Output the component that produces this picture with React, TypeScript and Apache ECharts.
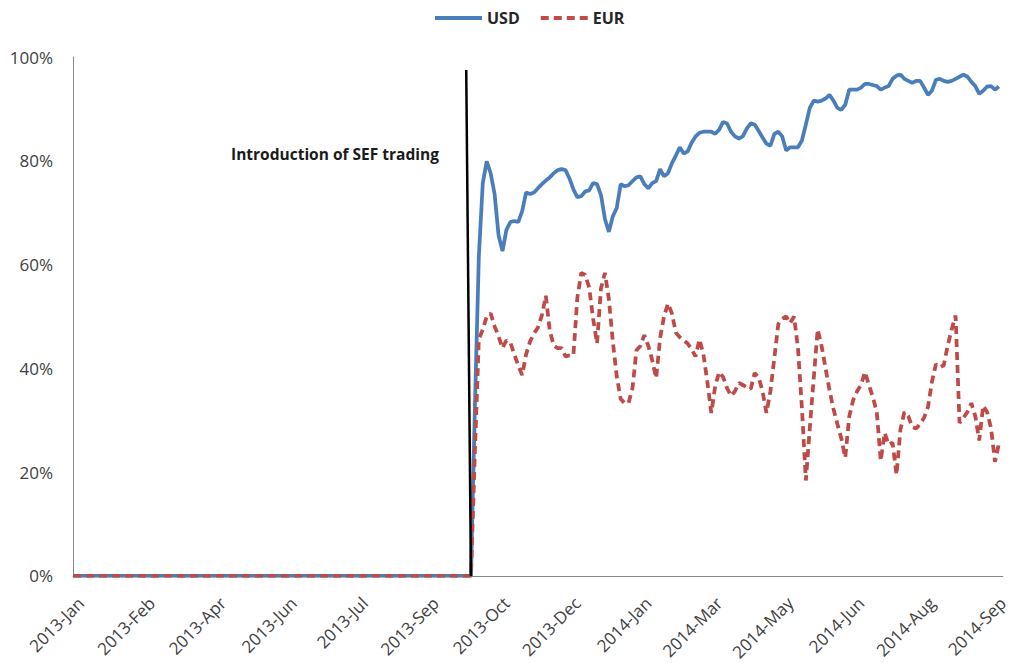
import React, { useEffect, useRef } from "react";
import * as echarts from "echarts";

const tickLabels = [
  "2013-Jan", "2013-Feb", "2013-Apr", "2013-Jun", "2013-Jul", "2013-Sep", "2013-Oct",
  "2013-Dec", "2014-Jan", "2014-Mar", "2014-May", "2014-Jun", "2014-Aug", "2014-Sep",
];
const POINTS_PER_LABEL = 18;
const LABEL_OFFSET = 2;
const AXIS_END = 236;
const SEF_START = 101; // last observation with no SEF trading
const sefLine = { top: [99.8, 97.5], bottom: [101.0, 0] };
const annotation = "Introduction of SEF trading";

// share of trading on SEF (%) after introduction
const usdShare = [
  32.4, 61.5, 75.7, 79.9, 77.6, 73.6, 65.7, 62.6, 66.7, 68.2, 68.4, 68.2, 70.3, 73.9, 73.6, 73.9,
  74.7, 75.5, 76.2, 76.8, 77.6, 78.2, 78.4, 78.2, 76.6, 74.5, 73.0, 73.2, 74.1, 74.3, 75.7, 75.5,
  73.4, 68.8, 66.3, 69.3, 70.9, 75.5, 75.1, 75.3, 76.1, 76.8, 77.0, 75.5, 74.7, 75.7, 76.1, 78.4,
  77.0, 77.6, 79.5, 81.0, 82.6, 81.4, 81.8, 83.5, 84.7, 85.4, 85.6, 85.6, 85.6, 85.2, 86.0, 87.5,
  87.2, 85.6, 84.7, 84.3, 84.7, 86.2, 87.2, 87.0, 85.8, 84.5, 83.3, 82.9, 85.2, 85.6, 84.7, 82.0,
  82.6, 82.6, 82.6, 83.9, 87.0, 90.2, 91.6, 91.4, 91.6, 92.0, 92.7, 91.6, 90.2, 89.8, 90.8, 93.7,
  93.7, 93.7, 94.1, 94.8, 94.8, 94.6, 94.4, 93.7, 94.1, 94.4, 95.8, 96.4, 96.6, 95.8, 95.4, 95.0,
  95.4, 95.4, 94.1, 92.7, 93.5, 95.6, 95.8, 95.4, 95.2, 95.4, 95.8, 96.2, 96.6, 96.2, 95.2, 94.4,
  92.9, 93.5, 94.3, 94.4, 93.7, 94.3,
];
const eurShare = [
  23.9, 45.6, 47.5, 50.0, 50.6, 48.1, 46.2, 43.9, 45.4, 45.0, 42.7, 40.6, 38.7, 42.7, 45.2, 46.7,
  47.9, 50.2, 54.0, 47.3, 44.4, 43.9, 43.9, 42.3, 42.5, 42.5, 53.6, 58.4, 58.0, 55.6, 49.6, 44.8,
  55.4, 58.4, 53.4, 45.2, 38.5, 34.1, 33.3, 33.3, 36.2, 43.5, 44.3, 46.4, 44.4, 41.6, 38.1, 45.8,
  50.0, 52.5, 50.6, 46.9, 46.0, 45.4, 44.8, 43.7, 42.3, 45.6, 42.7, 37.4, 31.4, 36.6, 39.3, 38.3,
  36.2, 34.7, 35.6, 37.2, 36.8, 36.4, 36.0, 39.1, 38.3, 35.6, 31.4, 35.6, 42.0, 48.5, 49.6, 50.0,
  48.7, 50.0, 43.9, 32.4, 18.4, 28.5, 38.1, 47.5, 44.3, 40.0, 35.8, 32.2, 29.3, 26.5, 22.8, 30.7,
  33.9, 35.6, 36.8, 39.3, 36.8, 34.5, 31.6, 22.2, 27.6, 25.3, 25.7, 19.5, 28.2, 31.6, 30.8, 28.7,
  28.4, 29.3, 30.5, 32.6, 37.4, 40.8, 40.2, 40.6, 44.4, 47.5, 50.2, 29.5, 30.5, 31.6, 33.3, 30.8,
  26.1, 32.8, 31.6, 28.5, 22.0, 25.5,
];

const toSeries = (vals: number[]) => [
  [0, 0],
  [SEF_START, 0],
  ...vals.map((v, i) => [SEF_START + 1 + i, v]),
];

const FONT = '"Open Sans", "Noto Sans", sans-serif';

export default function App() {
  const ref = useRef<HTMLDivElement>(null);
  useEffect(() => {
    if (!ref.current) return;
    const chart = echarts.init(ref.current, undefined, { renderer: "svg" });
    chart.setOption({
      animation: false,
      backgroundColor: "#ffffff",
      grid: { left: 73, right: 0, top: 57, bottom: 84, containLabel: false },
      legend: {
        left: 428,
        top: 5,
        itemWidth: 47,
        itemHeight: 14,
        itemGap: 19,
        data: ["USD", "EUR"],
        itemStyle: { opacity: 0 },
        lineStyle: { width: 4 },
        textStyle: { fontFamily: FONT, fontWeight: "bold", fontSize: 16, color: "#262626" },
      },
      xAxis: {
        type: "value",
        min: 0,
        max: AXIS_END,
        axisLine: { show: true, lineStyle: { color: "#868686", width: 1 } },
        axisTick: { show: false },
        splitLine: { show: false },
        axisLabel: {
          customValues: tickLabels.map((_, i) => LABEL_OFFSET + i * POINTS_PER_LABEL),
          rotate: 45,
          margin: 24,
          fontFamily: FONT,
          fontSize: 17,
          color: "#404040",
          formatter: (v: number) => {
            const i = Math.round((v - LABEL_OFFSET) / POINTS_PER_LABEL);
            return tickLabels[i] ?? "";
          },
        },
      },
      yAxis: {
        type: "value",
        min: 0,
        max: 100,
        interval: 20,
        axisLine: { show: true, lineStyle: { color: "#868686", width: 1 } },
        axisTick: { show: false },
        splitLine: { show: false },
        axisLabel: { formatter: "{value}%", margin: 20, fontFamily: FONT, fontSize: 17, color: "#404040" },
      },
      series: [
        {
          name: "USD",
          type: "line",
          data: toSeries(usdShare),
          showSymbol: false,
          symbol: "none",
          color: "#4A7EBB",
          lineStyle: { color: "#4A7EBB", width: 3.75 },
          markLine: {
            silent: true,
            symbol: ["none", "none"],
            label: { show: false },
            lineStyle: { color: "#000000", width: 2.5, type: "solid" },
            data: [[{ coord: sefLine.top }, { coord: sefLine.bottom }]],
          },
        },
        {
          name: "EUR",
          type: "line",
          data: toSeries(eurShare),
          showSymbol: false,
          symbol: "none",
          color: "#BE4B48",
          lineStyle: { color: "#BE4B48", width: 3.75, type: [8, 5] },
        },
      ],
      graphic: [
        {
          type: "text",
          left: 231,
          top: 146,
          style: { text: annotation, font: `bold 15.5px ${FONT}`, fill: "#1a1a1a" },
        },
      ],
    });
    return () => chart.dispose();
  }, []);
  return (
    <div
      ref={ref}
      style={{ position: "fixed", left: 0, top: 0, width: 1011, height: 663, background: "#fff" }}
    />
  );
}
